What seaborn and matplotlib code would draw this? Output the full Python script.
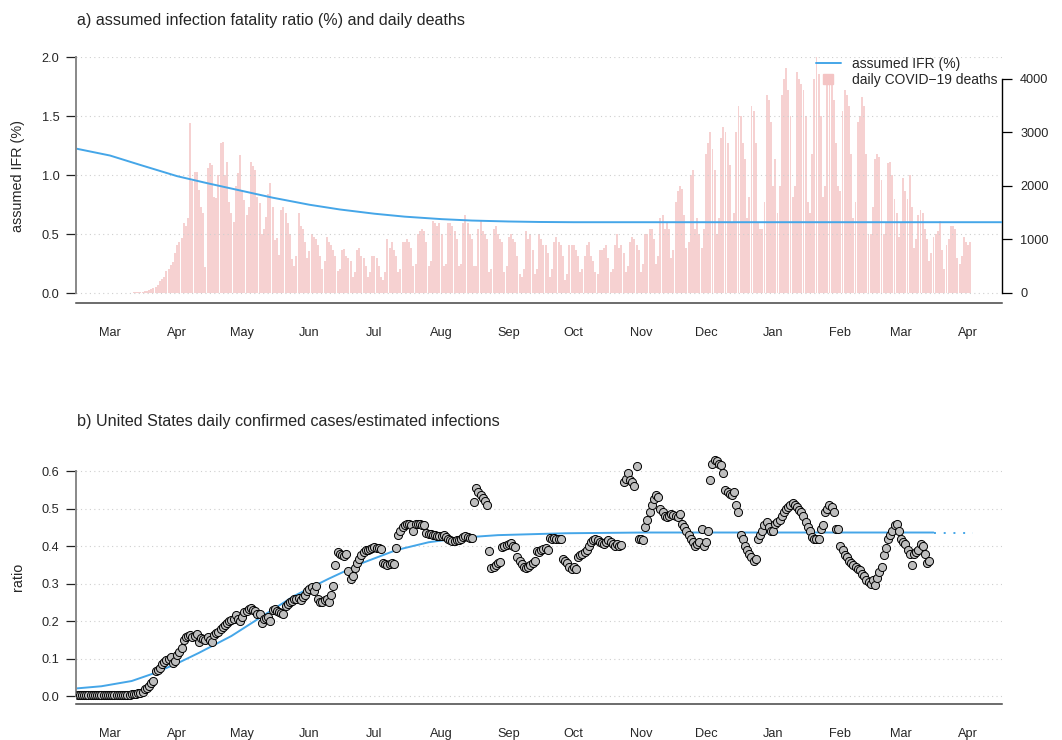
import numpy as np
import pandas as pd
import matplotlib
matplotlib.use("Agg")
import matplotlib.pyplot as plt
import matplotlib.dates as mdates
from matplotlib.lines import Line2D
import seaborn as sns

# daily COVID-19 deaths, starting 2020-03-01
deaths_start = "2020-03-01"
deaths = [
    # Mar 2020
    1, 3, 1, 3, 1, 2, 5, 4, 4, 8, 8, 11, 10, 12,
    17, 23, 34, 40, 60, 70, 90, 110, 150, 220, 260, 300, 410, 450,
    520, 580, 750,
    # Apr
    900, 950, 1030, 1300, 1250, 1400, 3180, 2100, 2260, 2260, 1930,
    1600, 1500, 490, 2330, 2430, 2400, 1800, 1780, 2200, 2800, 2820, 2200, 2450, 1700,
    1500, 1330, 2000, 2240, 2580,
    # May
    1925, 1740, 1460, 1600, 2450, 2380, 2300, 1800, 1680,
    1100, 1200, 1420, 1850, 2050, 1600, 990, 1020, 710, 1550, 1600, 1500, 1300, 1100,
    640, 500, 700, 1500, 1250, 1200, 950, 650,
    # Jun
    780, 1100, 1050, 1000, 900, 700, 450, 600, 1050, 950, 900, 800, 700,
    420, 450, 800, 820, 700, 650, 600, 300, 400, 800, 850, 700, 650, 500,
    300, 400, 700,
    # Jul
    700, 650, 500, 300, 250, 400, 1000, 850, 950, 800, 700,
    400, 450, 950, 950, 1000, 950, 850, 500, 550, 1100, 1150, 1200, 1150, 950,
    500, 600, 1350, 1300, 1250, 1300,
    # Aug
    1100, 500, 550, 1300, 1300, 1250, 1150, 1000, 500, 550, 1300, 1450, 1300, 1100, 1000,
    500, 500, 1200, 1350, 1150, 1100, 1000, 400, 450, 1200, 1250, 1100, 1000, 950,
    400, 500,
    # Sep
    1050, 1100, 1000, 950, 700, 350, 300, 450, 1150, 1000, 1100, 800,
    350, 450, 1100, 1000, 900, 900, 750, 300, 450, 950, 1050, 950, 900, 700,
    250, 350, 900, 900,
    # Oct
    900, 800, 700, 400, 450, 700, 900, 950, 700, 600, 400, 350, 800, 800, 850, 900, 650,
    400, 450, 900, 1100, 850, 900, 750, 400, 500, 950, 1050, 1000, 900, 800,
    # Nov
    400, 550, 1100, 1100, 1200, 1200, 1000, 550, 700, 1400, 1450, 1200, 1300, 1200,
    650, 800, 1700, 1900, 2000, 1950, 1450, 850, 950, 2200, 2300, 1200, 1400, 1100,
    850, 1200,
    # Dec
    2600, 2800, 3000, 2700, 2300, 1100, 1400, 2900, 3100, 3000, 2800, 2400,
    1300, 1500, 3000, 3500, 3300, 2800, 2500, 1400, 1800, 3500, 3400, 2800, 1300, 1200,
    1200, 1700, 3700, 3600, 3200,
    # Jan 2021
    2000, 2500, 1500, 2000, 3700, 4000, 4200, 3800, 3300,
    1800, 2000, 4130, 4000, 3900, 3800, 3300, 1700, 1500, 2600, 4000, 4420, 4100, 3300,
    1800, 2000, 4100, 3940, 3900, 3600, 2800, 2000,
    # Feb
    1900, 3400, 3790, 3700, 3500, 2600, 1400, 1700, 3200, 3300, 3660, 3500, 2600,
    1100, 1100, 1600, 2500, 2600, 2540, 2110, 1100, 1300, 2430, 2450, 2200, 1750, 1500, 1050,
    # Mar
    1300, 2150, 1900, 1750, 2200, 1600, 850, 1000, 1450, 1550,
    1500, 1200, 1000, 600, 750, 1050, 1100, 1150, 1350, 800,
    450, 900, 1000, 1250, 1250, 1200, 650, 550, 700, 1050, 950,
    # Apr
    900, 950,
]

# assumed IFR (%)
ifr_dates = ["2020-02-14", "2020-03-01", "2020-03-15", "2020-04-01", "2020-04-15",
             "2020-05-01", "2020-05-15", "2020-06-01", "2020-06-15", "2020-07-01",
             "2020-07-15", "2020-08-01", "2020-08-15", "2020-09-01", "2020-09-15",
             "2020-10-01", "2021-04-17"]
ifr_values = [1.225, 1.165, 1.085, 0.99, 0.93, 0.865, 0.808, 0.748, 0.708, 0.672,
              0.647, 0.626, 0.614, 0.606, 0.602, 0.60, 0.60]

# daily confirmed cases / estimated infections, starting 2020-02-15
ratio_start = "2020-02-15"
ratio = [
    # Feb 15-29
    0.003, 0.002, 0.003, 0.003, 0.002, 0.003, 0.003, 0.002, 0.003, 0.003, 0.002, 0.003, 0.003, 0.003, 0.002,
    # Mar
    0.003, 0.002, 0.003, 0.003, 0.003, 0.002, 0.003, 0.003, 0.004, 0.004, 0.005, 0.005, 0.006, 0.007,
    0.008, 0.012, 0.018, 0.022, 0.028, 0.035, 0.04,
    0.066, 0.07, 0.076, 0.085, 0.09, 0.095, 0.1, 0.105, 0.088, 0.094,
    # Apr
    0.11, 0.118, 0.127, 0.15, 0.157, 0.16, 0.162, 0.158, 0.16, 0.165,
    0.145, 0.155, 0.152, 0.15, 0.158, 0.15, 0.145, 0.163, 0.167, 0.17,
    0.178, 0.183, 0.19, 0.195, 0.2, 0.202, 0.205, 0.215, 0.205, 0.2,
    # May
    0.21, 0.225, 0.228, 0.232, 0.235, 0.23, 0.228, 0.22, 0.218, 0.195,
    0.205, 0.207, 0.21, 0.2, 0.23, 0.232, 0.228, 0.225, 0.222, 0.22,
    0.24, 0.245, 0.25, 0.253, 0.258, 0.26, 0.262, 0.256, 0.265, 0.27, 0.28,
    # Jun
    0.285, 0.29, 0.28, 0.293, 0.26, 0.252, 0.25, 0.255, 0.26, 0.25,
    0.27, 0.293, 0.35, 0.385, 0.38, 0.375, 0.373, 0.378, 0.333, 0.311,
    0.32, 0.342, 0.355, 0.365, 0.375, 0.383, 0.39, 0.39, 0.392, 0.395,
    # Jul
    0.398, 0.396, 0.394, 0.392, 0.355, 0.352, 0.35, 0.351, 0.355, 0.353,
    0.395, 0.43, 0.44, 0.45, 0.455, 0.458, 0.46, 0.455, 0.44, 0.458,
    0.46, 0.458, 0.455, 0.456, 0.435, 0.433, 0.432, 0.43, 0.43, 0.428, 0.427,
    # Aug
    0.427, 0.43, 0.425, 0.418, 0.415, 0.414, 0.413, 0.415, 0.416, 0.42,
    0.425, 0.427, 0.424, 0.422, 0.422, 0.517, 0.555, 0.545, 0.535, 0.528,
    0.52, 0.51, 0.388, 0.342, 0.345, 0.35, 0.355, 0.357, 0.398, 0.40, 0.403,
    # Sep
    0.405, 0.407, 0.40, 0.398, 0.37, 0.36, 0.352, 0.345, 0.342, 0.345,
    0.35, 0.355, 0.36, 0.387, 0.385, 0.39, 0.392, 0.395, 0.39, 0.422,
    0.42, 0.422, 0.42, 0.418, 0.42, 0.365, 0.36, 0.355, 0.345, 0.34,
    # Oct
    0.345, 0.34, 0.37, 0.375, 0.38, 0.385, 0.39, 0.40, 0.41, 0.415,
    0.418, 0.415, 0.41, 0.408, 0.405, 0.41, 0.415, 0.41, 0.405, 0.40,
    0.405, 0.40, 0.402, 0.57, 0.58, 0.595, 0.575, 0.57, 0.56, 0.613, 0.42,
    # Nov
    0.42, 0.415, 0.45, 0.47, 0.49, 0.51, 0.525, 0.535, 0.53, 0.50,
    0.49, 0.48, 0.478, 0.48, 0.485, 0.483, 0.48, 0.478, 0.485, 0.46,
    0.45, 0.44, 0.43, 0.42, 0.41, 0.40, 0.405, 0.41, 0.445, 0.40,
    # Dec
    0.41, 0.44, 0.575, 0.62, 0.63, 0.628, 0.62, 0.615, 0.595, 0.55,
    0.545, 0.54, 0.535, 0.545, 0.51, 0.49, 0.43, 0.42, 0.40, 0.39,
    0.38, 0.37, 0.36, 0.365, 0.42, 0.43, 0.44, 0.455, 0.465, 0.45, 0.44,
    # Jan 2021
    0.44, 0.46, 0.465, 0.47, 0.48, 0.49, 0.50, 0.505, 0.51, 0.515,
    0.51, 0.505, 0.495, 0.49, 0.48, 0.465, 0.45, 0.44, 0.425, 0.42,
    0.42, 0.42, 0.445, 0.455, 0.49, 0.50, 0.51, 0.505, 0.49, 0.445, 0.445,
    # Feb
    0.40, 0.39, 0.375, 0.37, 0.36, 0.355, 0.35, 0.345, 0.34, 0.335,
    0.325, 0.32, 0.31, 0.305, 0.30, 0.31, 0.295, 0.315, 0.33, 0.345,
    0.375, 0.395, 0.42, 0.43, 0.44, 0.455, 0.46, 0.44,
    # Mar 1-14
    0.42, 0.41, 0.405, 0.39, 0.38, 0.35, 0.38, 0.385, 0.39, 0.405, 0.40, 0.38, 0.355, 0.36,
]

# fitted curve and projection
fit_dates = ["2020-02-14", "2020-02-26", "2020-03-11", "2020-03-21", "2020-04-01",
             "2020-04-11", "2020-04-26", "2020-05-09", "2020-05-25", "2020-06-10",
             "2020-06-26", "2020-07-11", "2020-07-26", "2020-08-12", "2020-08-27",
             "2020-09-27", "2020-11-03", "2021-03-16"]
fit_values = [0.020, 0.026, 0.040, 0.060, 0.087, 0.115, 0.16, 0.208, 0.267, 0.313,
              0.356, 0.389, 0.410, 0.423, 0.429, 0.434, 0.436, 0.436]
proj_dates = ["2021-03-16", "2021-04-03"]
proj_values = [0.436, 0.436]

BLUE = "#45A6E8"
PINK = "#EC9A9A"

sns.set_style("white")
plt.rcParams["font.family"] = ["Liberation Sans", "DejaVu Sans"]

W, H = 1062, 740
fig = plt.figure(figsize=(W / 100, H / 100), dpi=100)


def px_axes(left, right, top, bottom):
    return fig.add_axes([left / W, 1 - bottom / H, (right - left) / W, (bottom - top) / H])


base = mdates.date2num(pd.Timestamp("2020-03-01"))
xlim = (base - 15.7, base + 411.6)
month_ticks = pd.date_range("2020-03-01", "2021-04-01", freq="MS")


def style_xaxis(ax):
    ax.set_xlim(xlim)
    ax.set_xticks(mdates.date2num(month_ticks))
    ax.xaxis.set_major_formatter(mdates.DateFormatter("%b"))
    ax.tick_params(axis="x", length=7, width=0.9, color="#444", labelsize=9.2, pad=10.5)
    ax.spines["bottom"].set_color("#444")
    ax.spines["bottom"].set_linewidth(1.1)
    ax.spines["top"].set_visible(False)
    ax.spines["right"].set_visible(False)
    ax.spines["left"].set_color("#888")
    ax.spines["left"].set_linewidth(1.4)
    ax.tick_params(axis="y", left=True, length=7, width=0.9, color="#222", labelsize=9.2, pad=5)
    ax.grid(axis="y", color="#cfcfcf", linestyle=(0, (1, 3)), linewidth=0.8)
    ax.grid(axis="x", visible=False)
    ax.set_xlabel("")
    ax.set_ylabel("")


# ---- panel a ----
ax1 = px_axes(76, 1002, 57, 303)
ax1r = ax1.twinx()
ax1.set_zorder(ax1r.get_zorder() + 1)
ax1.patch.set_visible(False)

death_dates = pd.date_range(deaths_start, periods=len(deaths), freq="D")
ax1r.bar(death_dates, deaths, width=0.9, color=PINK, alpha=0.45, linewidth=0)
ax1r.set_ylim(-187, 4411)
ax1r.set_yticks([0, 1000, 2000, 3000, 4000])
ax1r.spines["right"].set_bounds(0, 4000)
ax1r.spines["right"].set_color("black")
ax1r.spines["right"].set_linewidth(1.0)
for s in ["top", "left", "bottom"]:
    ax1r.spines[s].set_visible(False)
ax1r.tick_params(axis="y", right=True, length=7, width=0.9, color="black", labelsize=9.2, pad=6)
ax1r.grid(False)

sns.lineplot(x=pd.to_datetime(ifr_dates), y=ifr_values, ax=ax1, color=BLUE, linewidth=1.4)
style_xaxis(ax1)
ax1.set_ylim(-0.0847, 2.0)
ax1.set_yticks([0.0, 0.5, 1.0, 1.5, 2.0])
ax1.set_yticklabels(["0.0", "0.5", "1.0", "1.5", "2.0"])
ax1.spines["left"].set_bounds(0, 2)

handles = [Line2D([], [], color=BLUE, linewidth=1.4),
           Line2D([], [], marker="s", linestyle="none", markersize=7,
                  markerfacecolor="#F4C4C4", markeredgecolor="#F4C4C4")]
ax1.legend(handles, ["assumed IFR (%)", "daily COVID\u221219 deaths"], loc="upper right",
           bbox_to_anchor=(998 / W, 1 - 57 / H), bbox_transform=fig.transFigure,
           frameon=False, fontsize=10, handlelength=1.8, handletextpad=0.85,
           labelspacing=0.15, borderpad=0, borderaxespad=0)

fig.text(77 / W, 1 - 20 / H, "a) assumed infection fatality ratio (%) and daily deaths",
         fontsize=11.6, va="center", ha="left")
fig.text(18 / W, 1 - 176 / H, "assumed IFR (%)", rotation=90, fontsize=10.4,
         va="center", ha="center")

# ---- panel b ----
ax2 = px_axes(76, 1002, 452, 704)
ratio_dates = pd.date_range(ratio_start, periods=len(ratio), freq="D")
sns.lineplot(x=pd.to_datetime(fit_dates), y=fit_values, ax=ax2, color=BLUE, linewidth=1.4)
sns.lineplot(x=pd.to_datetime(proj_dates), y=proj_values, ax=ax2, color=BLUE,
             linewidth=1.4, linestyle=(0, (1, 4)))
sns.scatterplot(x=ratio_dates, y=ratio, ax=ax2, s=34, color="#BEBEBE",
                edgecolor="black", linewidth=0.7, zorder=3)
style_xaxis(ax2)
ax2.set_ylim(-0.0213, 0.6507)
ax2.set_yticks([0.0, 0.1, 0.2, 0.3, 0.4, 0.5, 0.6])
ax2.set_yticklabels(["0.0", "0.1", "0.2", "0.3", "0.4", "0.5", "0.6"])
ax2.spines["left"].set_bounds(0, 0.6)

fig.text(77 / W, 1 - 422 / H, "b) United States daily confirmed cases/estimated infections",
         fontsize=11.6, va="center", ha="left")
fig.text(18 / W, 1 - 577 / H, "ratio", rotation=90, fontsize=10.4, va="center", ha="center")

fig.savefig("out.png", dpi=100)
